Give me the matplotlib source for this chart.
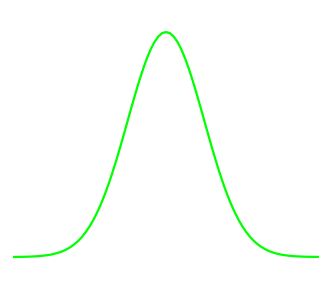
import matplotlib
matplotlib.use('Agg')
import matplotlib.pyplot as plt

# x positions sampled every 0.1 from -4 to 4
x_vals = [round(-4 + 0.1 * i, 1) for i in range(81)]
# curve heights at each x
y_vals = [0.0001, 0.0002, 0.0003, 0.0004, 0.0006, 0.0009, 0.0012, 0.0017, 0.0024, 0.0033,
          0.0044, 0.0060, 0.0079, 0.0104, 0.0136, 0.0175, 0.0224, 0.0283, 0.0355, 0.0440,
          0.0540, 0.0656, 0.0790, 0.0940, 0.1109, 0.1295, 0.1497, 0.1714, 0.1942, 0.2179,
          0.2420, 0.2661, 0.2897, 0.3123, 0.3332, 0.3521, 0.3683, 0.3814, 0.3910, 0.3970,
          0.3989,
          0.3970, 0.3910, 0.3814, 0.3683, 0.3521, 0.3332, 0.3123, 0.2897, 0.2661, 0.2420,
          0.2179, 0.1942, 0.1714, 0.1497, 0.1295, 0.1109, 0.0940, 0.0790, 0.0656, 0.0540,
          0.0440, 0.0355, 0.0283, 0.0224, 0.0175, 0.0136, 0.0104, 0.0079, 0.0060, 0.0044,
          0.0033, 0.0024, 0.0017, 0.0012, 0.0009, 0.0006, 0.0004, 0.0003, 0.0002, 0.0001]

fig = plt.figure(figsize=(3.31, 2.86), dpi=100)
fig.patch.set_facecolor('white')
ax = fig.add_axes([0, 0, 1, 1])
ax.plot(x_vals, y_vals, color='#00ff00', lw=1.6, solid_capstyle='butt')
ax.set_xlim(-4.34, 4.314)
ax.set_ylim(-0.0514, 0.4557)
ax.axis('off')

fig.savefig('out.png', dpi=100)
